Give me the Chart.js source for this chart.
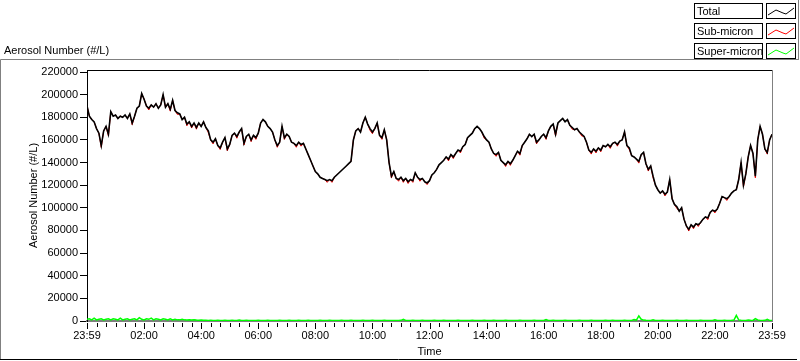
<!DOCTYPE html>
<html>
<head>
<meta charset="utf-8">
<script src="https://cdn.jsdelivr.net/npm/chart.js@4.4.0/dist/chart.umd.min.js"></script>
<style>
  html, body { margin: 0; padding: 0; background: #fff; }
</style>
</head>
<body>
<canvas id="aerosolChart" width="800" height="361"></canvas>
<script>
// samples every 5 minutes from 23:59, values in thousands of particles per litre
const stepMinutes = 5;

const totalK = [
  190,181,178,176,170,166,155,168,172,165,
  185,181,182,179,181,180,182,179,183,175,
  181,188,190,201,196,190,188,191,189,192,
  188,191,200,189,192,187,195,186,184,183,
  178,180,174,176,172,175,171,175,172,176,
  171,168,160,158,161,155,153,158,162,152,
  156,164,166,163,167,170,157,163,165,160,
  164,162,166,175,178,176,172,170,167,160,
  155,158,172,162,165,163,158,157,155,158,
  156,157,152,147,142,137,132,130,127,126,
  125,124,125,124,127,129,131,133,135,137,
  139,141,160,168,170,167,175,180,174,170,
  167,170,175,164,162,169,160,140,128,132,
  126,125,127,124,126,123,125,124,131,127,
  125,126,123,122,124,129,131,134,138,140,
  142,145,143,147,145,148,151,150,154,156,
  162,164,166,170,172,170,167,163,160,158,
  152,148,147,149,142,140,138,141,139,142,
  146,150,148,155,158,161,165,163,165,158,
  160,163,165,162,168,172,174,165,175,177,
  179,176,178,173,171,169,170,167,165,163,
  158,151,149,152,150,153,151,155,154,156,
  154,157,158,156,159,160,167,155,153,146,
  145,143,141,147,149,139,134,137,128,120,
  116,113,115,112,114,125,108,103,101,97,
  100,90,84,81,85,83,86,85,87,90,
  92,91,96,98,97,99,104,110,109,108,
  110,113,115,116,125,140,120,130,145,155,
  148,128,160,172,165,152,149,160,165
];

const subMicronK = [
  190,181,178,176,170,166,153.5,168,172,163.5,
  185,181,182,179,181,180,182,179,183,173.5,
  181,188,190,201,196,190,186.5,191,189,192,
  188,191,200,189,192,185.5,195,186,182.5,183,
  178,180,172.5,176,170.5,175,169.5,175,172,176,
  171,166.5,160,156.5,161,155,151.5,158,162,150.5,
  156,164,166,161.5,167,170,155.5,163,165,158.5,
  164,160.5,166,175,178,176,172,170,167,160,
  153.5,158,172,160.5,165,163,158,157,153.5,158,
  154.5,157,152,147,142,137,132,130,127,126,
  125,122.5,125,122.5,127,129,131,133,135,137,
  139,141,160,168,170,167,175,180,174,168.5,
  165.5,170,175,164,160.5,169,160,140,126.5,132,
  126,123.5,127,122.5,126,121.5,125,122.5,131,127,
  123.5,126,123,120.5,124,129,131,134,138,140,
  142,145,141.5,147,143.5,148,151,148.5,154,156,
  162,164,166,170,172,170,167,161.5,160,158,
  152,148,145.5,149,142,140,136.5,141,137.5,142,
  146,150,146.5,155,158,161,165,163,165,156.5,
  160,163,165,160.5,168,172,174,163.5,175,177,
  179,176,178,173,169.5,169,170,167,163.5,163,
  158,151,147.5,152,148.5,153,149.5,155,154,156,
  152.5,157,158,154.5,159,160,167,155,151.5,146,
  145,143,139.5,147,149,139,132.5,137,126.5,120,
  116,113,115,110.5,114,125,108,103,99.5,97,
  100,90,84,79.5,85,81.5,86,83.5,87,90,
  92,89.5,96,98,95.5,99,104,110,109,106.5,
  110,113,115,116,125,140,118.5,130,145,155,
  148,126.5,160,172,165,152,147.5,160,165
];

const superMicronK = [
  1.5,2,1,2.5,1,1.5,2,1,1.5,2,
  1,2,1.5,1,2.5,1,1.5,2,1,1.5,
  2,1,3,1.5,1,2,1.5,2.5,1,2,
  1.5,1,2,1.5,1,2,1,1.5,1,1,
  1.5,1,0.8,1,0.8,1.2,0.8,0.6,0.8,0.6,
  0.6,0.5,0.6,0.5,0.5,0.6,0.5,0.5,0.6,0.5,
  0.5,0.6,0.5,0.5,0.8,0.5,0.5,0.6,0.5,0.5,
  0.5,0.5,0.6,0.5,0.5,0.5,0.6,0.5,0.5,0.5,
  0.5,0.6,0.5,0.5,0.5,0.6,0.5,0.5,0.5,0.6,
  0.5,0.5,0.5,0.6,0.5,0.5,0.5,0.5,0.6,0.5,
  0.5,0.5,0.6,0.5,0.5,0.5,0.5,0.6,0.5,0.5,
  0.5,0.6,0.5,0.5,0.5,0.5,0.6,0.5,0.5,0.5,
  0.6,0.5,0.5,0.5,0.5,0.6,0.5,0.5,0.5,0.5,
  0.5,0.5,0.6,1.5,0.5,0.5,0.5,0.6,0.5,0.5,
  0.5,0.6,0.5,0.5,0.5,0.5,0.6,0.5,0.5,0.5,
  0.6,0.5,0.5,0.5,0.5,0.5,0.6,0.5,0.5,0.5,
  0.5,0.5,0.6,0.5,0.5,0.5,0.5,0.6,0.5,0.5,
  0.5,0.6,0.5,0.5,0.5,0.5,0.6,0.5,0.5,0.5,
  0.5,0.5,0.6,0.5,0.5,0.5,0.5,0.5,0.6,0.5,
  0.5,0.5,0.5,1.2,0.5,0.5,0.6,0.5,0.5,0.5,
  0.5,0.6,0.5,0.5,0.5,0.5,0.5,0.6,0.5,0.5,
  0.5,0.5,0.6,0.5,0.5,0.5,0.5,0.5,0.6,0.5,
  0.5,0.6,0.5,0.5,0.5,0.5,0.6,0.5,0.5,0.5,
  1.2,0.8,4.5,1.5,0.8,0.6,0.5,0.5,1.0,0.5,
  0.5,0.5,0.6,0.5,0.5,0.5,0.5,0.5,0.6,0.5,
  0.5,0.5,0.6,0.5,0.5,0.5,0.5,0.5,0.6,0.5,
  0.5,0.5,0.5,0.5,1.0,0.5,0.5,0.5,0.6,0.5,
  0.5,0.6,0.8,5.0,1.0,0.6,0.5,0.5,0.8,0.6,
  0.5,2.0,1.0,0.5,0.5,0.6,1.5,0.5,0.5
];

const xTickMinutes = [0, 120, 240, 360, 480, 600, 720, 840, 960, 1080, 1200, 1320, 1440];
const xTickLabels = ['23:59', '02:00', '04:00', '06:00', '08:00', '10:00', '12:00',
                     '14:00', '16:00', '18:00', '20:00', '22:00', '23:59'];
const yTickValues = [0, 20000, 40000, 60000, 80000, 100000, 120000, 140000, 160000, 180000, 200000, 220000];

function toPoints(arr) {
    return arr.map((v, i) => ({ x: i * stepMinutes, y: v * 1000 }));
}

Chart.defaults.font.family = "'Liberation Sans', Arial, sans-serif";
Chart.defaults.font.size = 11;
Chart.defaults.color = '#000';

// LabVIEW style panel: caption, legend boxes, frame and time ticks
const panelDecor = {
    id: 'panelDecor',
    beforeDraw(chart) {
        const ctx = chart.ctx;
        ctx.save();
        ctx.fillStyle = '#fff';
        ctx.fillRect(0, 0, chart.width, chart.height);

        ctx.lineWidth = 1;
        ctx.strokeStyle = '#808080';
        ctx.beginPath();
        ctx.moveTo(0.5, 360);
        ctx.lineTo(0.5, 59.5);
        ctx.lineTo(798, 59.5);
        ctx.moveTo(798.5, 0);
        ctx.lineTo(798.5, 60);
        ctx.stroke();
        ctx.strokeStyle = '#000';
        ctx.beginPath();
        ctx.moveTo(0, 359.5);
        ctx.lineTo(797, 359.5);
        ctx.stroke();

        ctx.fillStyle = '#000';
        ctx.font = "11px 'Liberation Sans', Arial, sans-serif";
        ctx.textBaseline = 'middle';
        ctx.textAlign = 'left';
        ctx.fillText('Aerosol Number (#/L)', 4, 51);

        // legend
        chart.data.datasets.forEach((ds, r) => {
            const top = 3.5 + r * 20;
            ctx.lineWidth = 1;
            ctx.strokeStyle = '#000';
            ctx.strokeRect(694.5, top, 68, 15);
            ctx.strokeRect(766.5, top, 29, 15);
            ctx.fillStyle = '#000';
            ctx.fillText(ds.label, 697, top + 8);
            ctx.strokeStyle = ds.borderColor;
            ctx.beginPath();
            ctx.moveTo(768, top + 11.5);
            ctx.lineTo(776, top + 6.5);
            ctx.lineTo(783, top + 9.5);
            ctx.lineTo(786, top + 10.5);
            ctx.lineTo(794, top + 4.5);
            ctx.stroke();
        });
        ctx.restore();
    },
    afterDraw(chart) {
        const ctx = chart.ctx;
        const area = chart.chartArea;
        const xs = chart.scales.x;
        ctx.save();
        ctx.lineWidth = 1;
        ctx.strokeStyle = '#000';
        ctx.beginPath();
        ctx.moveTo(area.left, area.top + 0.5);
        ctx.lineTo(area.right, area.top + 0.5);
        ctx.stroke();
        ctx.strokeStyle = '#808080';
        ctx.beginPath();
        ctx.moveTo(area.right + 0.5, area.top);
        ctx.lineTo(area.right + 0.5, area.bottom + 1);
        ctx.stroke();

        ctx.strokeStyle = '#000';
        ctx.beginPath();
        for (let m = 0; m <= 1440; m += 20) {
            const px = Math.round(xs.getPixelForValue(m)) + 0.5;
            const len = (m % 120 === 0) ? 6 : 4;
            ctx.moveTo(px, area.bottom + 2);
            ctx.lineTo(px, area.bottom + 2 + len);
        }
        ctx.stroke();
        ctx.restore();
    }
};

const ctx = document.getElementById('aerosolChart');
new Chart(ctx, {
    type: 'line',
    data: {
        datasets: [
            { label: 'Total', data: toPoints(totalK), borderColor: '#000000', borderWidth: 1.6 },
            { label: 'Sub-micron', data: toPoints(subMicronK), borderColor: '#ff0000', borderWidth: 1 },
            { label: 'Super-micron', data: toPoints(superMicronK), borderColor: '#00ff00', borderWidth: 1.5 }
        ]
    },
    options: {
        responsive: false,
        animation: false,
        layout: { padding: { top: 70, right: 28, left: 0, bottom: 0 } },
        elements: {
            point: { radius: 0 },
            line: { tension: 0 }
        },
        plugins: {
            legend: { display: false },
            tooltip: { enabled: false }
        },
        scales: {
            x: {
                type: 'linear',
                min: 0,
                max: 1440,
                afterFit: (s) => { s.height = 40; },
                afterBuildTicks: (s) => { s.ticks = xTickMinutes.map(v => ({ value: v })); },
                grid: { display: false, drawTicks: false },
                border: { display: true, color: '#808080', width: 2 },
                ticks: {
                    autoSkip: false,
                    maxRotation: 0,
                    padding: 8,
                    callback: (v) => xTickLabels[xTickMinutes.indexOf(v)]
                },
                title: { display: true, text: 'Time', padding: { top: 0, bottom: 2 } }
            },
            y: {
                min: 0,
                max: 221800,
                afterFit: (s) => { s.width = 87; },
                afterBuildTicks: (s) => { s.ticks = yTickValues.map(v => ({ value: v })); },
                grid: { drawOnChartArea: false, drawTicks: true, tickLength: 7, color: '#000' },
                border: { color: '#000', width: 1 },
                ticks: { padding: 2, callback: (v) => String(v) },
                title: { display: true, text: 'Aerosol Number (#/L)', padding: { top: 27, bottom: 0 } }
            }
        }
    },
    plugins: [panelDecor]
});
</script>
</body>
</html>
